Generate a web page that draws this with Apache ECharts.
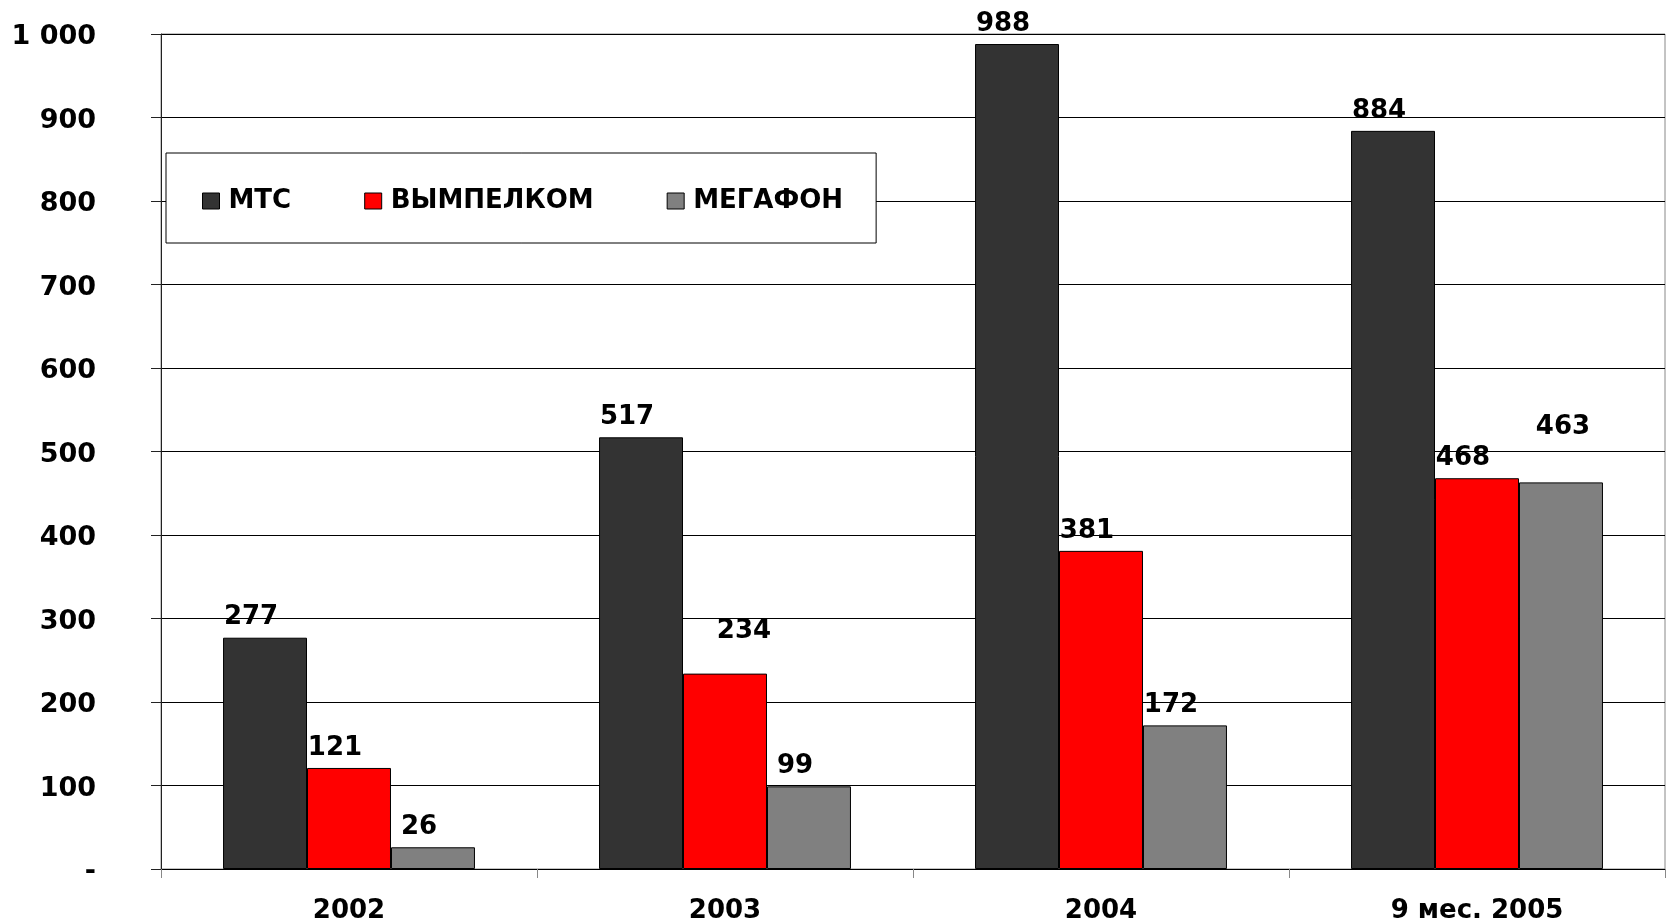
<!DOCTYPE html>
<html>
<head>
<meta charset="utf-8">
<script src="https://cdn.jsdelivr.net/npm/echarts@6/dist/echarts.min.js"></script>
<style>
html, body { margin: 0; padding: 0; background: #fff; }
#chart { width: 1671px; height: 922px; }
</style>
</head>
<body>
<div id="chart"></div>
<script>
var periods = ['2002', '2003', '2004', '9 мес. 2005'];
var mtsValues = [277, 517, 988, 884];
var beelineValues = [121, 234, 381, 468];
var megafonValues = [26, 99, 172, 463];
var yTicks = [0, 100, 200, 300, 400, 500, 600, 700, 800, 900, 1000];

var fontFam = '"DejaVu Sans", Verdana, sans-serif';

// labels in the original were nudged by hand in a couple of places
function withLabels(values, moved) {
    return values.map(function (v, i) {
        var item = { value: v };
        if (moved && moved[i]) {
            item.label = { offset: moved[i] };
        }
        return item;
    });
}

var dom = document.getElementById('chart');
var myChart = echarts.init(dom, null, { renderer: 'canvas' });

var labelStyle = {
    show: true,
    position: 'top',
    distance: 7,
    offset: [-14, 0],
    color: '#000',
    fontFamily: fontFam,
    fontWeight: 'bold',
    fontSize: 26
};

var option = {
    animation: false,
    backgroundColor: '#fff',
    grid: {
        left: 161,
        right: 6,
        top: 34,
        bottom: 53,
        outerBoundsMode: 'none',
        show: true,
        borderColor: '#888',
        borderWidth: 1
    },
    legend: {
        left: 166,
        top: 153,
        orient: 'horizontal',
        padding: [35, 33, 29, 36],
        backgroundColor: '#fff',
        borderColor: '#000',
        borderWidth: 1,
        itemWidth: 17,
        itemHeight: 16,
        itemGap: 73,
        icon: 'rect',
        itemStyle: { borderColor: '#000', borderWidth: 1 },
        textStyle: {
            fontFamily: fontFam,
            fontWeight: 'bold',
            fontSize: 26,
            color: '#000',
            padding: [0, 0, 0, 4]
        },
        data: ['МТС', 'ВЫМПЕЛКОМ', 'МЕГАФОН']
    },
    xAxis: {
        type: 'category',
        data: periods,
        axisLine: { lineStyle: { color: '#000', width: 1 } },
        axisTick: { show: true, length: 9, lineStyle: { color: '#888' } },
        axisLabel: {
            margin: 29,
            color: '#000',
            fontFamily: fontFam,
            fontWeight: 'bold',
            fontSize: 26
        }
    },
    yAxis: {
        type: 'value',
        min: yTicks[0],
        max: yTicks[yTicks.length - 1],
        interval: 100,
        axisLine: { show: true, lineStyle: { color: '#222', width: 1 } },
        axisTick: { show: true, length: 10, lineStyle: { color: '#222' } },
        axisLabel: {
            margin: 65,
            color: '#000',
            formatter: function (v) {
                var s;
                if (v === 0) s = '-';
                else if (v >= 1000) s = Math.floor(v / 1000) + ' ' + String(v % 1000).padStart(3, '0');
                else s = String(v);
                return '{v|' + s + '}';
            },
            rich: {
                v: {
                    fontFamily: fontFam,
                    fontWeight: 'bold',
                    fontSize: 27,
                    color: '#000',
                    padding: [6, 0, 0, 0]
                }
            }
        },
        splitLine: {
            show: true,
            lineStyle: { color: '#000', width: 1 }
        }
    },
    series: [
        {
            name: 'МТС',
            type: 'bar',
            barGap: '0%',
            barCategoryGap: '33%',
            itemStyle: { color: '#333333', borderColor: '#000', borderWidth: 1 },
            label: labelStyle,
            data: withLabels(mtsValues)
        },
        {
            name: 'ВЫМПЕЛКОМ',
            type: 'bar',
            barGap: '0%',
            barCategoryGap: '33%',
            itemStyle: { color: '#ff0000', borderColor: '#000', borderWidth: 1 },
            label: labelStyle,
            data: withLabels(beelineValues, { 1: [19, -22] })
        },
        {
            name: 'МЕГАФОН',
            type: 'bar',
            barGap: '0%',
            barCategoryGap: '33%',
            itemStyle: { color: '#808080', borderColor: '#000', borderWidth: 1 },
            label: labelStyle,
            data: withLabels(megafonValues, { 3: [2, -35] })
        }
    ]
};

if (option && typeof option === 'object') {
    myChart.setOption(option);
}

window.addEventListener('resize', myChart.resize);
</script>
</body>
</html>
